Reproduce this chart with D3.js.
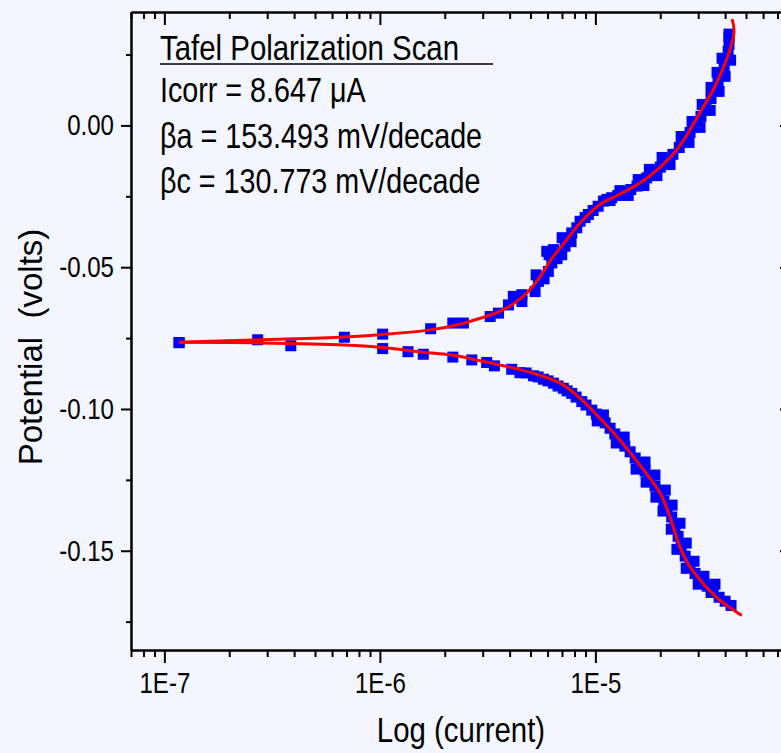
<!DOCTYPE html>
<html><head><meta charset="utf-8">
<script src="https://cdn.jsdelivr.net/npm/d3@7"></script>
<style>html,body{margin:0;padding:0;background:#f3f6fe;overflow:hidden}</style>
</head><body><svg id="c" width="781" height="753"></svg>
<script>
// ---- measured data (current in A, potential in V) ----
const anodicCurrent = [1.17e-7,2.71e-7,6.84e-7,1.03e-6,1.72e-6,2.18e-6,2.44e-6,3.25e-6,3.55e-6,3.95e-6,4.16e-6,4.56e-6,4.56e-6,5.25e-6,5.44e-6,5.95e-6,6.39e-6,6.05e-6,6.28e-6,6.98e-6,7.23e-6,7.77e-6,8.20e-6,8.49e-6,8.96e-6,9.28e-6,9.76e-6,1.03e-5,1.09e-5,1.13e-5,1.19e-5,1.27e-5,1.37e-5,1.46e-5,1.56e-5,1.63e-5,1.73e-5,1.85e-5,2.00e-5,2.13e-5,2.29e-5,2.45e-5,2.61e-5,2.75e-5,2.93e-5,3.09e-5,3.26e-5,3.44e-5,3.59e-5,3.71e-5,3.83e-5,3.96e-5,4.04e-5,4.13e-5,4.17e-5,4.17e-5,4.17e-5,
  2.72e-5,2.50e-5,3.06e-5,2.81e-5,3.41e-5,3.13e-5,3.75e-5,3.44e-5,4.00e-5,3.67e-5,4.24e-5,3.87e-5,2.22e-5,2.04e-5,1.93e-5,1.78e-5,1.68e-5,1.58e-5,7.71e-6,7.01e-6,6.64e-6,6.10e-6,5.78e-6,5.31e-6,1.17e-5,1.30e-5,1.42e-5];
const anodicPotential = [-0.0766,-0.0756,-0.0747,-0.0736,-0.0717,-0.0697,-0.0697,-0.0674,-0.0662,-0.0633,-0.0603,-0.0621,-0.0597,-0.0586,-0.0550,-0.0444,-0.0438,-0.0515,-0.0485,-0.0456,-0.0426,-0.0379,-0.0361,-0.0338,-0.0325,-0.0314,-0.0300,-0.0285,-0.0267,-0.0261,-0.0255,-0.0247,-0.0238,-0.0226,-0.0214,-0.0201,-0.0185,-0.0166,-0.0147,-0.0125,-0.0102,-0.0078,-0.0049,-0.0025,0.0004,0.0032,0.0064,0.0095,0.0127,0.0155,0.0180,0.0208,0.0233,0.0261,0.0286,0.0311,0.0322,
  -0.0060,-0.0039,-0.0007,0.0014,0.0053,0.0074,0.0120,0.0134,0.0173,0.0187,0.0230,0.0237,-0.0138,-0.0113,-0.0177,-0.0155,-0.0212,-0.0191,-0.0410,-0.0396,-0.0470,-0.0456,-0.0541,-0.0527,-0.0265,-0.0230,-0.0247];
const cathodicCurrent = [1.17e-7,3.86e-7,1.03e-6,1.35e-6,1.59e-6,2.18e-6,2.67e-6,3.13e-6,3.40e-6,4.09e-6,4.47e-6,4.77e-6,5.16e-6,5.42e-6,5.74e-6,6.03e-6,6.39e-6,6.71e-6,7.10e-6,7.39e-6,7.77e-6,8.14e-6,8.65e-6,9.05e-6,9.62e-6,1.01e-5,1.05e-5,1.11e-5,1.17e-5,1.23e-5,1.30e-5,1.37e-5,1.45e-5,1.53e-5,1.61e-5,1.70e-5,1.79e-5,1.89e-5,2.00e-5,2.08e-5,2.15e-5,2.26e-5,2.34e-5,2.42e-5,2.50e-5,2.61e-5,2.75e-5,2.90e-5,3.09e-5,3.30e-5,3.52e-5,3.75e-5,4.00e-5,4.26e-5,
  1.70e-5,1.545e-5,1.89e-5,1.72e-5,2.11e-5,1.91e-5,2.27e-5,2.06e-5,2.47e-5,2.25e-5,2.64e-5,2.39e-5,2.87e-5,2.64e-5,3.19e-5,3.00e-5,3.59e-5,3.44e-5,1.36e-5,1.25e-5,1.09e-5,1.02e-5];
const cathodicPotential = [-0.0766,-0.0777,-0.0787,-0.0798,-0.0807,-0.0817,-0.0827,-0.0836,-0.0848,-0.0860,-0.0872,-0.0873,-0.0883,-0.0887,-0.0895,-0.0901,-0.0909,-0.0919,-0.0927,-0.0936,-0.0945,-0.0958,-0.0974,-0.0986,-0.1004,-0.1018,-0.1033,-0.1049,-0.1068,-0.1088,-0.1110,-0.1131,-0.1151,-0.1173,-0.1198,-0.1219,-0.1245,-0.1272,-0.1298,-0.1325,-0.1350,-0.1381,-0.1413,-0.1449,-0.1484,-0.1519,-0.1551,-0.1580,-0.1604,-0.1625,-0.1647,-0.1664,-0.1678,-0.1693,
  -0.1187,-0.1212,-0.1233,-0.1258,-0.1286,-0.1311,-0.1339,-0.1360,-0.1403,-0.1424,-0.1473,-0.1495,-0.1537,-0.1562,-0.1590,-0.1618,-0.1618,-0.1647,-0.1099,-0.1120,-0.1021,-0.1042];
const fitAnodicCurrent = [1.17e-7,2.78e-7,6.82e-7,1.03e-6,1.71e-6,2.36e-6,2.92e-6,3.61e-6,4.24e-6,4.82e-6,5.54e-6,6.37e-6,7.37e-6,8.49e-6,1.05e-5,1.30e-5,1.61e-5,2.00e-5,2.47e-5,3.06e-5,3.59e-5,4.00e-5,4.26e-5,4.39e-5,4.38e-5,4.31e-5];
const fitAnodicPotential = [-0.0765,-0.0756,-0.0746,-0.0737,-0.0721,-0.0701,-0.0680,-0.0656,-0.0625,-0.0590,-0.0533,-0.0463,-0.0403,-0.0344,-0.0279,-0.0242,-0.0203,-0.0147,-0.0071,0.0046,0.0138,0.0219,0.0279,0.0322,0.0350,0.0375];
const fitCathodicCurrent = [1.17e-7,2.78e-7,6.84e-7,1.03e-6,1.59e-6,2.12e-6,2.92e-6,3.61e-6,5.16e-6,6.86e-6,8.49e-6,1.05e-5,1.30e-5,1.61e-5,2.00e-5,2.22e-5,2.47e-5,2.75e-5,3.17e-5,3.79e-5,4.78e-5];
const fitCathodicPotential = [-0.0765,-0.0767,-0.0774,-0.0783,-0.0800,-0.0809,-0.0830,-0.0845,-0.0874,-0.0909,-0.0962,-0.1033,-0.1110,-0.1198,-0.1298,-0.1381,-0.1487,-0.1557,-0.1616,-0.1675,-0.1728];

const xMajorTicks = [1e-7, 1e-6, 1e-5];
const xTickLabels = ["1E-7", "1E-6", "1E-5"];
const xMinorTicks = [7e-8,8e-8,9e-8,2e-7,3e-7,4e-7,5e-7,6e-7,7e-7,8e-7,9e-7,2e-6,3e-6,4e-6,5e-6,6e-6,7e-6,8e-6,9e-6,2e-5,3e-5,4e-5,5e-5,6e-5,7e-5];
const yMajorTicks = [-0.15, -0.10, -0.05, 0.00];
const yTickLabels = ["-0.15", "-0.10", "-0.05", "0.00"];
const yMinorTicks = [-0.175, -0.125, -0.075, -0.025, 0.025];
const xDomain = [7e-8, 8e-5];
const yDomain = [-0.185, 0.04];
const titleText = "Tafel Polarization Scan";
const annotationLines = ["Icorr = 8.647 \u03BCA", "\u03B2a = 153.493 mV/decade", "\u03B2c = 130.773 mV/decade"];
const xTitle = "Log (current)";
const yTitle = "Potential  (volts)";

// ---- drawing ----
const svg = d3.select("#c");
const L = 131, R = 790, T = 12, B = 650;
const font = "'Liberation Sans',Arial,sans-serif";
const NARROW = 0.83;

function narrow(sel, k) {
  sel.each(function () {
    const len = this.getComputedTextLength();
    d3.select(this).attr("textLength", len * k).attr("lengthAdjust", "spacingAndGlyphs");
  });
}

const x = d3.scaleLog().domain(xDomain).range([L, R]);
const y = d3.scaleLinear().domain(yDomain).range([B, T]);

svg.append("rect").attr("width", 781).attr("height", 753).attr("fill", "#f3f6fe");

function styleAxis(g) {
  g.selectAll("path").attr("stroke", "#000").attr("stroke-width", 2);
  g.selectAll("line").attr("stroke", "#000").attr("stroke-width", 2);
}

// bottom axis (outward)
svg.append("g").attr("transform", `translate(0,${B})`)
  .call(d3.axisBottom(x).tickValues(xMinorTicks).tickSize(7).tickSizeOuter(0).tickFormat(""))
  .call(styleAxis);
const gb = svg.append("g").attr("transform", `translate(0,${B})`)
  .call(d3.axisBottom(x).tickValues(xMajorTicks).tickSize(13).tickSizeOuter(0).tickPadding(9)
    .tickFormat((d, i) => xTickLabels[i]))
  .call(styleAxis);
gb.selectAll("text").attr("font-family", font).attr("font-size", 29).attr("fill", "#000").call(narrow, NARROW);

// top axis (inward)
svg.append("g").attr("transform", `translate(0,${T})`)
  .call(d3.axisBottom(x).tickValues(xMinorTicks).tickSize(7).tickSizeOuter(0).tickFormat(""))
  .call(styleAxis);
svg.append("g").attr("transform", `translate(0,${T})`)
  .call(d3.axisBottom(x).tickValues(xMajorTicks).tickSize(13).tickSizeOuter(0).tickFormat(""))
  .call(styleAxis);

// left axis (outward)
svg.append("g").attr("transform", `translate(${L},0)`)
  .call(d3.axisLeft(y).tickValues(yMinorTicks).tickSize(5).tickSizeOuter(0).tickFormat(""))
  .call(styleAxis);
const gl = svg.append("g").attr("transform", `translate(${L},0)`)
  .call(d3.axisLeft(y).tickValues(yMajorTicks).tickSize(10).tickSizeOuter(0).tickPadding(7)
    .tickFormat((d, i) => yTickLabels[i]))
  .call(styleAxis);
gl.selectAll("text").attr("font-family", font).attr("font-size", 29).attr("fill", "#000").call(narrow, NARROW);

// right axis (inward)
svg.append("g").attr("transform", `translate(${R},0)`)
  .call(d3.axisLeft(y).tickValues(yMinorTicks).tickSize(5).tickSizeOuter(0).tickFormat(""))
  .call(styleAxis);
svg.append("g").attr("transform", `translate(${R},0)`)
  .call(d3.axisLeft(y).tickValues(yMajorTicks).tickSize(10).tickSizeOuter(0).tickFormat(""))
  .call(styleAxis);

// data markers
const ms = 11;
const anodic = anodicCurrent.map((c, i) => [c, anodicPotential[i]]);
const cathodic = cathodicCurrent.map((c, i) => [c, cathodicPotential[i]]);
svg.append("g").selectAll("rect").data(anodic.concat(cathodic)).join("rect")
  .attr("x", d => x(d[0]) - ms / 2).attr("y", d => y(d[1]) - ms / 2)
  .attr("width", ms).attr("height", ms)
  .attr("fill", "#0000ff");

// fit lines
const line = d3.line().x(d => x(d[0])).y(d => y(d[1])).curve(d3.curveCatmullRom.alpha(0.5));
const fitA = fitAnodicCurrent.map((c, i) => [c, fitAnodicPotential[i]]);
const fitC = fitCathodicCurrent.map((c, i) => [c, fitCathodicPotential[i]]);
[fitA, fitC].forEach(pts => {
  svg.append("path").attr("d", line(pts)).attr("fill", "none")
    .attr("stroke", "#ff0000").attr("stroke-width", 3);
});

// annotation
svg.append("text").attr("x", 160).attr("y", 60).text(titleText)
  .attr("font-family", font).attr("font-size", 35).attr("fill", "#000").call(narrow, 0.84);
svg.append("line").attr("x1", 160).attr("x2", 493).attr("y1", 64).attr("y2", 64)
  .attr("stroke", "#000").attr("stroke-width", 1.5);
annotationLines.forEach((t, i) => {
  svg.append("text").attr("x", 160).attr("y", 102 + i * 45.5).text(t)
    .attr("font-family", font).attr("font-size", 35).attr("fill", "#000").call(narrow, 0.82);
});

// axis titles
svg.append("text").attr("x", 461).attr("y", 742).attr("text-anchor", "middle").text(xTitle)
  .attr("font-family", font).attr("font-size", 35).attr("fill", "#000").call(narrow, 0.84);
svg.append("text").attr("transform", "translate(42,347) rotate(-90)").attr("text-anchor", "middle")
  .style("white-space", "pre").text(yTitle)
  .attr("font-family", font).attr("font-size", 33).attr("fill", "#000");
</script></body></html>
